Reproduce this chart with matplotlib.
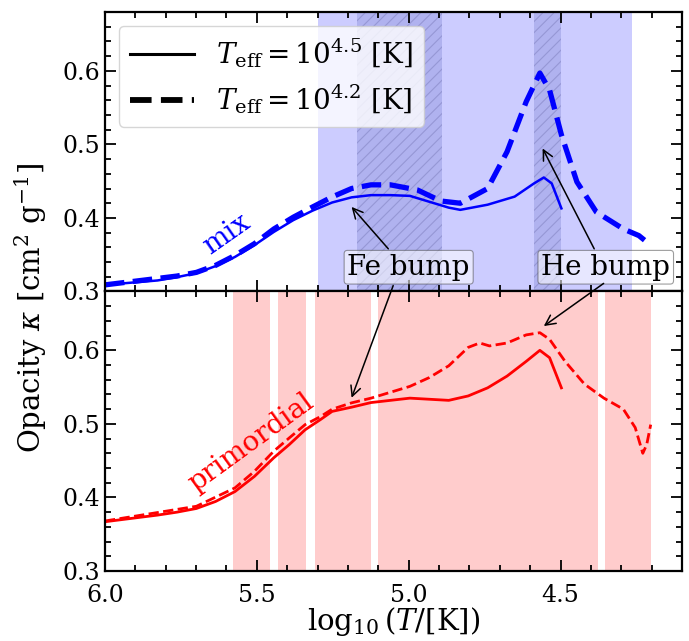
import matplotlib
matplotlib.use("Agg")
import matplotlib.pyplot as plt
from matplotlib.ticker import MultipleLocator

plt.rcParams["font.family"] = ["DejaVu Serif"]
plt.rcParams["mathtext.fontset"] = "dejavuserif"
plt.rcParams["hatch.linewidth"] = 0.8

# --- data --------------------------------------------------------------
mix_x_45 = [6.0, 5.827, 5.763, 5.699, 5.636, 5.572, 5.508, 5.444, 5.380, 5.316,
            5.252, 5.188, 5.124, 5.060, 4.996, 4.932, 4.868, 4.830, 4.740, 4.651,
            4.587, 4.555, 4.529, 4.497]
mix_y_45 = [0.309, 0.315, 0.3195, 0.325, 0.3345, 0.347, 0.363, 0.381, 0.397, 0.410,
            0.421, 0.428, 0.431, 0.431, 0.430, 0.422, 0.414, 0.411, 0.418, 0.429,
            0.447, 0.455, 0.447, 0.413]

mix_x_42 = [6.0, 5.763, 5.699, 5.636, 5.572, 5.508, 5.444, 5.380, 5.316, 5.252,
            5.188, 5.124, 5.060, 4.971, 4.894, 4.830, 4.740, 4.676, 4.613, 4.568,
            4.536, 4.497, 4.446, 4.382, 4.293, 4.242, 4.203]
mix_y_42 = [0.309, 0.321, 0.326, 0.3355, 0.349, 0.365, 0.385, 0.401, 0.415, 0.4286,
            0.440, 0.445, 0.445, 0.438, 0.423, 0.420, 0.440, 0.490, 0.558, 0.597,
            0.574, 0.513, 0.449, 0.408, 0.385, 0.376, 0.363]

prim_x_45 = [6.0, 5.827, 5.763, 5.699, 5.636, 5.572, 5.508, 5.444, 5.393, 5.341,
             5.290, 5.252, 5.188, 5.124, 4.996, 4.868, 4.804, 4.740, 4.676, 4.613,
             4.568, 4.536, 4.497]
prim_y_45 = [0.367, 0.376, 0.380, 0.385, 0.3945, 0.408, 0.4286, 0.454, 0.472, 0.492,
             0.506, 0.517, 0.5227, 0.529, 0.535, 0.532, 0.538, 0.549, 0.565, 0.585,
             0.600, 0.590, 0.549]

prim_x_42 = [6.0, 5.699, 5.572, 5.508, 5.444, 5.393, 5.341, 5.290, 5.252, 5.188,
             5.124, 4.996, 4.932, 4.868, 4.804, 4.766, 4.734, 4.676, 4.613, 4.568,
             4.536, 4.485, 4.421, 4.357, 4.293, 4.254, 4.229, 4.216, 4.203]
prim_y_42 = [0.368, 0.388, 0.413, 0.4355, 0.463, 0.481, 0.499, 0.510, 0.520, 0.5286,
             0.535, 0.551, 0.563, 0.579, 0.604, 0.610, 0.606, 0.610, 0.621, 0.624,
             0.615, 0.585, 0.554, 0.535, 0.520, 0.495, 0.460, 0.472, 0.499]

mix_span = (5.30, 4.265)
mix_bumps = [(5.17, 4.89), (4.587, 4.50)]
prim_spans = [(5.578, 5.457), (5.431, 5.339), (5.309, 5.123), (5.101, 4.375),
              (4.353, 4.203)]

bump_labels = ["Fe bump", "He bump"]
bump_text_x = [5.0, 4.351]
bump_tails_top = [(5.067, 0.358), (4.389, 0.358)]
bump_heads_top = [(5.188, 0.415), (4.559, 0.4945)]
bump_tails_bot = [(5.051, 0.308), (4.358, 0.311)]
bump_heads_bot = [(5.188, 0.5355), (4.555, 0.633)]

# --- figure -------------------------------------------------------------
fig, (ax_top, ax_bot) = plt.subplots(2, 1, figsize=(6.89, 6.41), dpi=100,
                                     sharex=True)
fig.subplots_adjust(left=0.1524, right=0.9898, top=0.9813, bottom=0.1092,
                    hspace=0)

for ax in (ax_top, ax_bot):
    ax.set_xlim(6.0, 4.1)
    ax.set_ylim(0.3, 0.68)
    ax.xaxis.set_major_locator(MultipleLocator(0.5))
    ax.xaxis.set_minor_locator(MultipleLocator(0.1))
    ax.yaxis.set_major_locator(MultipleLocator(0.1))
    ax.yaxis.set_minor_locator(MultipleLocator(0.02))
    ax.tick_params(which="both", direction="in", top=True, right=True,
                   labelsize=17, width=1.3)
    ax.tick_params(which="major", length=8)
    ax.tick_params(which="minor", length=4)
    ax.tick_params(axis="x", pad=9)
    for sp in ax.spines.values():
        sp.set_linewidth(1.6)

ax_top.xaxis.set_major_formatter(plt.FormatStrFormatter("%.1f"))

# shaded regions
ax_top.axvspan(*mix_span, color="b", alpha=0.2, lw=0)
for lo, hi in mix_bumps:
    ax_top.axvspan(lo, hi, facecolor=(0.25, 0.3, 0.7, 0.2),
                   edgecolor=(0.35, 0.35, 0.6, 0.3), hatch="///", lw=0)
for lo, hi in prim_spans:
    ax_bot.axvspan(lo, hi, color="r", alpha=0.2, lw=0)

# curves
ax_top.plot(mix_x_45, mix_y_45, color="b", lw=1.8)
ax_top.plot(mix_x_42, mix_y_42, color="b", lw=3.8, ls="--")
ax_bot.plot(prim_x_45, prim_y_45, color="r", lw=2.0)
ax_bot.plot(prim_x_42, prim_y_42, color="r", lw=2.0, ls="--")

ax_top.text(5.60, 0.378, "mix", color="b", fontsize=20, rotation=35,
            ha="center", va="center")
ax_bot.text(5.52, 0.474, "primordial", color="r", fontsize=20, rotation=36,
            ha="center", va="center")

# legend (black proxies)
h1, = ax_top.plot([], [], color="k", lw=2.2, label=r"$T_{\rm eff}=10^{4.5}$ [K]")
h2, = ax_top.plot([], [], color="k", lw=4.2, ls="--",
                  label=r"$T_{\rm eff}=10^{4.2}$ [K]")
ax_top.legend(handles=[h1, h2], loc="upper left", fontsize=20, framealpha=0.8,
              handlelength=2.3, borderaxespad=0.5, labelspacing=0.45)

# bump annotations
arrow_kw = dict(arrowstyle="->", color="k", lw=1.1, shrinkA=0, shrinkB=0,
                mutation_scale=18)
for i, lab in enumerate(bump_labels):
    ax_top.text(bump_text_x[i], 0.333, lab, fontsize=20, ha="center",
                va="center", zorder=6,
                bbox=dict(boxstyle="round,pad=0.12", fc="white", alpha=0.55,
                          ec="0.3", lw=0.8))
    ax_bot.annotate("", xy=bump_heads_top[i], xycoords=ax_top.transData,
                    xytext=bump_tails_top[i], textcoords=ax_top.transData,
                    arrowprops=arrow_kw, annotation_clip=False)
    ax_bot.annotate("", xy=bump_heads_bot[i], xycoords="data",
                    xytext=bump_tails_bot[i], textcoords=ax_top.transData,
                    arrowprops=arrow_kw, annotation_clip=False)

fig.text(0.045, 0.52, r"Opacity $\kappa$ [cm$^2$ g$^{-1}$]", rotation=90,
         ha="center", va="center", fontsize=21)
ax_bot.set_xlabel(r"$\log_{10}(T/[\mathrm{K}])$", fontsize=21, labelpad=-1)

fig.savefig("out.png", dpi=100)
